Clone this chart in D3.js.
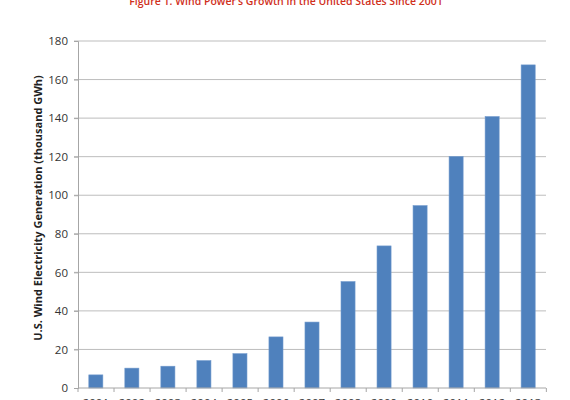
<!DOCTYPE html>
<meta charset="utf-8">
<script src="https://d3js.org/d3.v7.min.js"></script>
<style>
  body { margin: 0; background: #fff; }
  text { font-family: "Open Sans", "Liberation Sans", sans-serif; }
</style>
<body>
<div id="my_dataviz"></div>
<script>
// values
var years = ["2001","2002","2003","2004","2005","2006","2007","2008","2009","2010","2011","2012","2013"];
var generation = [6.8, 10.3, 11.3, 14.2, 17.8, 26.5, 34.2, 55.2, 73.7, 94.6, 120.1, 140.8, 167.6];
var yTicks = [0, 20, 40, 60, 80, 100, 120, 140, 160, 180];

var margin = {top: 41, right: 24, bottom: 12, left: 78},
    width = 570 - margin.left - margin.right,
    height = 400 - margin.top - margin.bottom;

var svg = d3.select("#my_dataviz")
  .append("svg")
    .attr("width", 570)
    .attr("height", 400);

var g = svg.append("g")
    .attr("transform", "translate(" + margin.left + "," + margin.top + ")");

var plotH = 347;

// title, cut off by the top of the picture
svg.append("text")
  .attr("x", 286)
  .attr("y", 5)
  .attr("text-anchor", "middle")
  .attr("fill", "#d0301c")
  .style("font-size", "10.5px")
  .style("font-weight", "600")
  .text("Figure 1. Wind Power\u2019s Growth in the United States Since 2001");

var x = d3.scaleBand()
  .domain(years)
  .range([0, width])
  .paddingInner(0.61)
  .paddingOuter(0.3);

var y = d3.scaleLinear()
  .domain([0, 180])
  .range([plotH, 0]);

// gridlines
g.append("g")
  .selectAll("line")
  .data(yTicks.slice(1))
  .join("line")
    .attr("x1", -4)
    .attr("x2", width)
    .attr("y1", function(d) { return y(d); })
    .attr("y2", function(d) { return y(d); })
    .attr("stroke", "#bdbdbd")
    .attr("stroke-width", 1);

// Y axis
var yAxis = g.append("g")
  .call(d3.axisLeft(y).tickValues(yTicks).tickSize(4).tickPadding(6));
yAxis.select(".domain").attr("stroke", "#a6a6a6");
yAxis.selectAll(".tick line").attr("stroke", "#a6a6a6");
yAxis.selectAll(".tick text")
  .attr("fill", "#333")
  .style("font-size", "11.5px")
  .style("font-family", "'Open Sans', 'Liberation Sans', sans-serif");

// bars
g.selectAll("rect.bar")
  .data(generation)
  .join("rect")
    .attr("class", "bar")
    .attr("x", function(d, i) { return x(years[i]); })
    .attr("y", function(d) { return y(d); })
    .attr("width", x.bandwidth())
    .attr("height", function(d) { return plotH - y(d); })
    .attr("fill", "#4f81bd")
    .attr("stroke", "#6f98cc")
    .attr("stroke-width", 0.6);

// X axis with ticks between categories
var xAxis = g.append("g")
  .attr("transform", "translate(0," + plotH + ")");
xAxis.append("line")
  .attr("x1", 0).attr("x2", width)
  .attr("stroke", "#a6a6a6");
xAxis.selectAll("line.tk")
  .data(d3.range(years.length + 1))
  .join("line")
    .attr("class", "tk")
    .attr("x1", function(i) { return i * x.step(); })
    .attr("x2", function(i) { return i * x.step(); })
    .attr("y1", 0).attr("y2", 4)
    .attr("stroke", "#a6a6a6");
xAxis.selectAll("text")
  .data(years)
  .join("text")
    .attr("x", function(d) { return x(d) + x.bandwidth() / 2; })
    .attr("y", 19)
    .attr("text-anchor", "middle")
    .attr("fill", "#333")
    .style("font-size", "11.5px")
    .text(function(d) { return d; });

// Y label
svg.append("text")
  .attr("transform", "translate(42,208) rotate(-90)")
  .attr("text-anchor", "middle")
  .attr("fill", "#222")
  .style("font-size", "11px")
  .style("font-weight", "bold")
  .text("U.S. Wind Electricity Generation (thousand GWh)");
</script>
</body>
